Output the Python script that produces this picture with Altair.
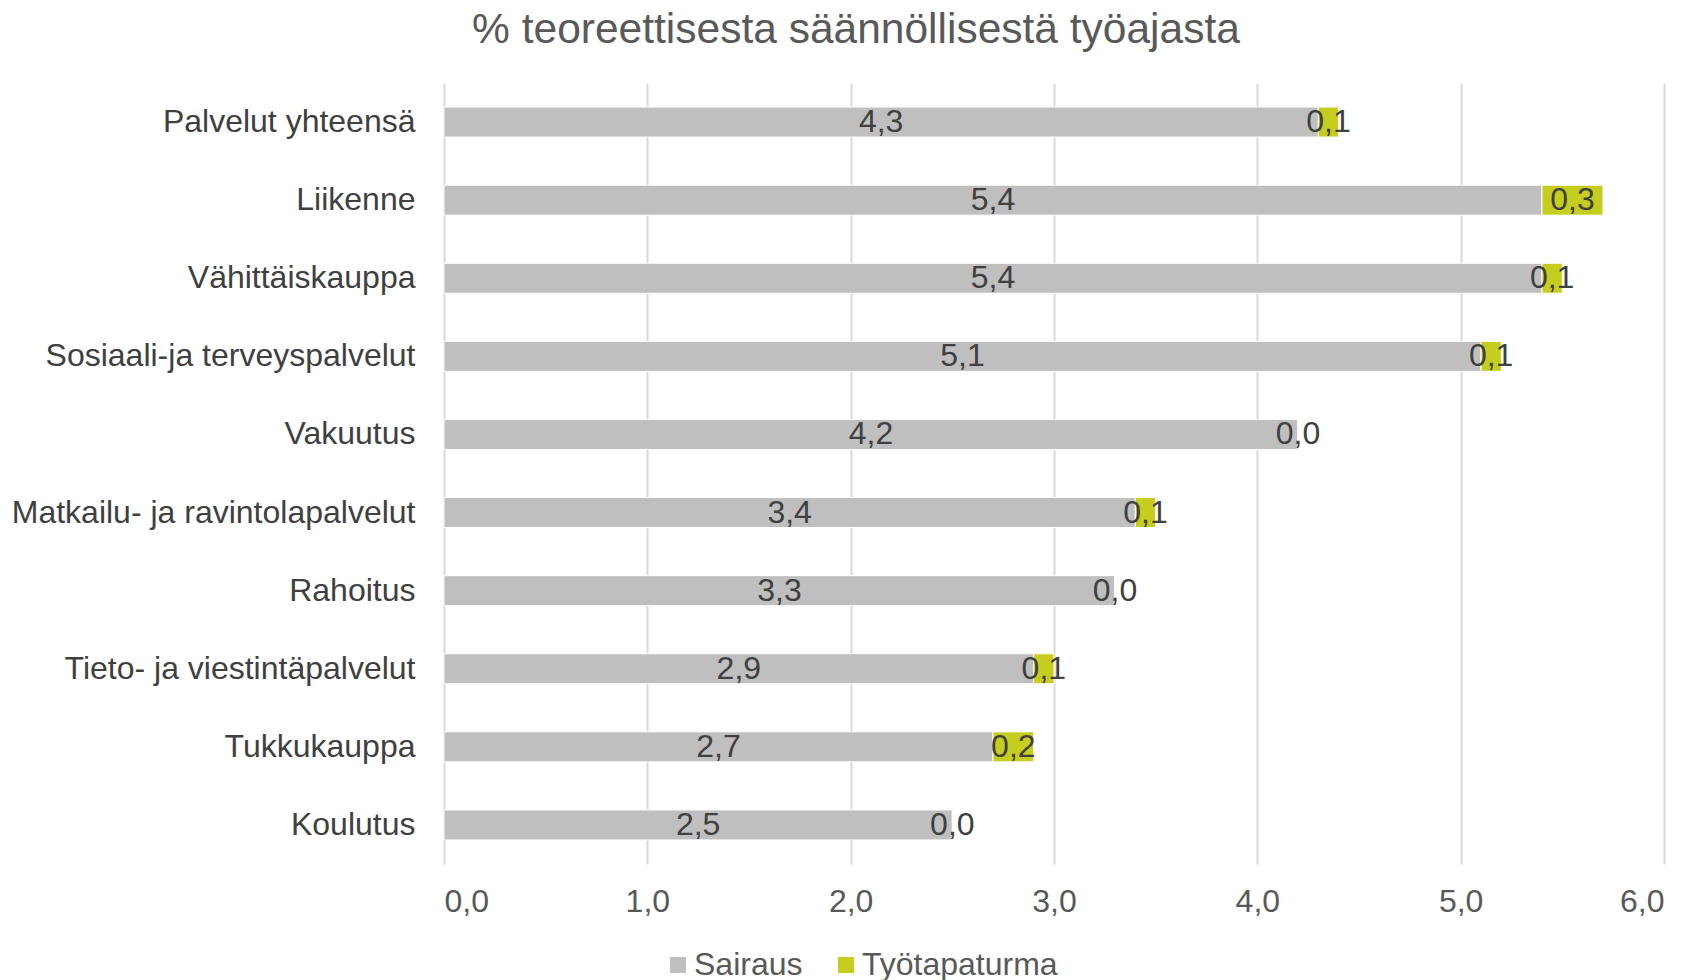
import altair as alt
import pandas as pd

categories = ["Palvelut yhteensä", "Liikenne", "Vähittäiskauppa",
              "Sosiaali-ja terveyspalvelut", "Vakuutus",
              "Matkailu- ja ravintolapalvelut", "Rahoitus",
              "Tieto- ja viestintäpalvelut", "Tukkukauppa", "Koulutus"]
sairaus = [4.3, 5.4, 5.4, 5.1, 4.2, 3.4, 3.3, 2.9, 2.7, 2.5]
tyotapaturma = [0.1, 0.3, 0.1, 0.1, 0.0, 0.1, 0.0, 0.1, 0.2, 0.0]
series = ["Sairaus", "Työtapaturma"]
colors = ["#BFBFBF", "#C5CE1E"]
x_ticks = [0, 1, 2, 3, 4, 5, 6]

rows = []
for i, c in enumerate(categories):
    rows.append({"cat": c, "series": series[0], "value": sairaus[i], "ord": 0})
    rows.append({"cat": c, "series": series[1], "value": tyotapaturma[i], "ord": 1})
df = pd.DataFrame(rows)

FONT = "Liberation Sans"

base = alt.Chart(df).transform_stack(
    stack="value", groupby=["cat"], as_=["x0", "x1"],
    sort=[alt.SortField("ord", order="ascending")]
).transform_calculate(
    mid="(datum.x0 + datum.x1) / 2",
    lab="replace(format(datum.value, '.1f'), '.', ',')"
)

y_enc = alt.Y("cat:N", sort=categories,
              scale=alt.Scale(paddingInner=0, paddingOuter=0),
              axis=alt.Axis(title=None, domain=False, ticks=False, grid=False,
                            labelFontSize=32, labelColor="#404040", labelPadding=29,
                            labelFont=FONT, labelLimit=700))

x_enc = alt.X("x0:Q", scale=alt.Scale(domain=[0, 6], nice=False),
              axis=alt.Axis(title=None, values=x_ticks,
                            labelExpr="replace(format(datum.value, '.1f'), '.', ',')",
                            grid=True, gridColor="#D9D9D9", gridWidth=2,
                            domain=False, ticks=False, labelFontSize=32,
                            labelColor="#595959", labelPadding=22, labelFont=FONT))

bars = base.mark_bar(size=30, stroke="white", strokeWidth=1).encode(
    y=y_enc, x=x_enc, x2="x1:Q",
    color=alt.Color("series:N", scale=alt.Scale(domain=series, range=colors),
                    legend=alt.Legend(title=None, orient="none", legendX=218, legendY=866,
                                      direction="horizontal", symbolType="square",
                                      symbolSize=256, symbolStrokeWidth=0,
                                      labelFontSize=32, labelFont=FONT, labelLimit=500,
                                      labelColor="#595959", columnPadding=27,
                                      labelOffset=0, padding=0)),
    order=alt.Order("ord:Q")
)

text = base.mark_text(fontSize=32, font=FONT, color="#404040").encode(
    y=alt.Y("cat:N", sort=categories),
    x=alt.X("mid:Q"),
    text="lab:N"
)

chart = (bars + text).properties(
    width=1220, height=781,
    title=alt.TitleParams("% teoreettisesta säännöllisestä työajasta",
                          fontSize=42.5, font=FONT, fontWeight="normal",
                          color="#595959", anchor="middle", dx=-198, offset=32),
    padding={"left": 436, "top": 75, "right": 27, "bottom": 140},
    autosize=alt.AutoSizeParams(type="none")
).configure_view(stroke=None)

chart.save("out.html", embed_options={"renderer": "svg", "actions": False})
